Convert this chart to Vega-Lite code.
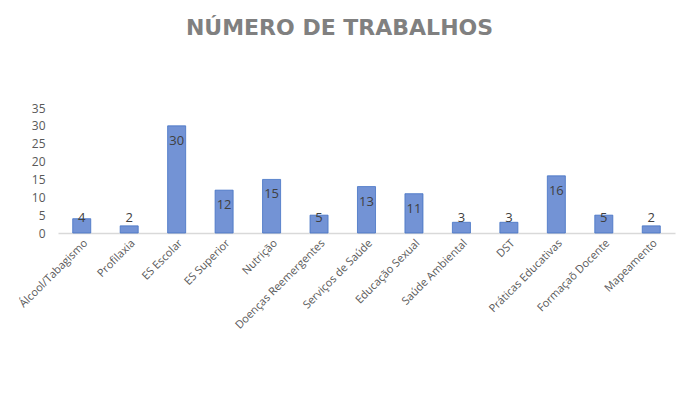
{
  "$schema": "https://vega.github.io/schema/vega-lite/v6.json",
  "width": 617,
  "height": 125,
  "autosize": {"type": "none"},
  "padding": {"left": 58, "top": 108, "right": 9, "bottom": 172},
  "background": "white",
  "title": {
    "text": "NÚMERO DE TRABALHOS",
    "font": "DejaVu Sans",
    "fontSize": 22,
    "fontWeight": "bold",
    "color": "#808080",
    "anchor": "middle",
    "dx": -27,
    "offset": 40,
    "baseline": "bottom"
  },
  "data": {
    "values": [
      {"tema": "Álcool/Tabagismo", "n": 4},
      {"tema": "Profilaxia", "n": 2},
      {"tema": "ES Escolar", "n": 30},
      {"tema": "ES Superior", "n": 12},
      {"tema": "Nutrição", "n": 15},
      {"tema": "Doenças Reemergentes", "n": 5},
      {"tema": "Serviços de Saúde", "n": 13},
      {"tema": "Educação Sexual", "n": 11},
      {"tema": "Saúde Ambiental", "n": 3},
      {"tema": "DST", "n": 3},
      {"tema": "Práticas Educativas", "n": 16},
      {"tema": "Formaçaõ Docente", "n": 5},
      {"tema": "Mapeamento", "n": 2}
    ]
  },
  "encoding": {
    "x": {
      "field": "tema",
      "type": "nominal",
      "sort": null,
      "title": null,
      "scale": {"paddingInner": 0.62, "paddingOuter": 0.31},
      "axis": {
        "labelAngle": -45,
        "labelFont": "Open Sans",
        "labelFontSize": 11,
        "labelColor": "#595959",
        "ticks": false,
        "labelPadding": 4,
        "domainColor": "#d9d9d9",
        "domainWidth": 1.5
      }
    },
    "y": {
      "field": "n",
      "type": "quantitative",
      "title": null,
      "scale": {"domain": [0, 35]},
      "axis": {"values": [0, 5, 10, 15, 20, 25, 30, 35], "labelOverlap": false}
    }
  },
  "layer": [
    {
      "mark": {"type": "bar", "color": "#7393d5", "stroke": "#4472c4", "strokeWidth": 0.8}
    },
    {
      "transform": [{"filter": "datum.n >= 8"}],
      "mark": {"type": "text", "font": "Open Sans", "fontSize": 13, "color": "#404040", "dy": 15, "baseline": "middle"},
      "encoding": {
        "text": {"field": "n", "type": "quantitative"}
      }
    },
    {
      "transform": [{"filter": "datum.n < 8"}],
      "mark": {"type": "text", "font": "Open Sans", "fontSize": 13, "color": "#404040", "baseline": "middle"},
      "encoding": {
        "y": {"datum": 4.2, "type": "quantitative", "title": null, "axis": {"values": [0, 5, 10, 15, 20, 25, 30, 35], "labelOverlap": false}},
        "text": {"field": "n", "type": "quantitative"}
      }
    }
  ],
  "config": {
    "view": {"stroke": null},
    "axisY": {
      "labelOverlap": false,
      "labelFlush": false,
      "grid": false,
      "domain": false,
      "ticks": false,
      "labelPadding": 13,
      "labelFont": "Open Sans",
      "labelFontSize": 12,
      "labelColor": "#595959"
    }
  }
}
